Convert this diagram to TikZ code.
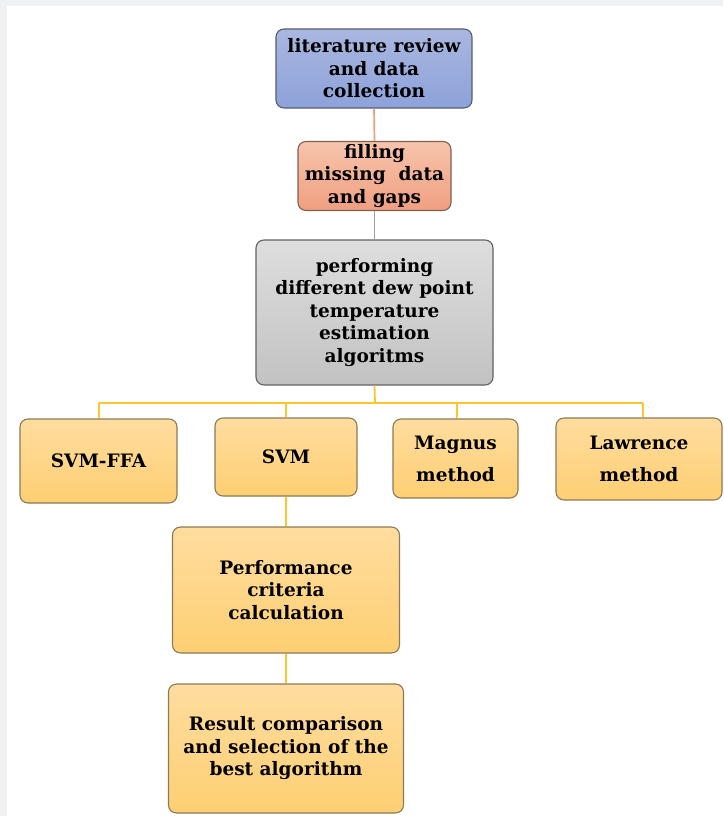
\documentclass[tikz,border=0pt]{standalone}
\usepackage{fontspec}
\setmainfont{DejaVu Serif}
\usetikzlibrary{positioning}
\definecolor{bgray}{HTML}{F0F1F3}
\definecolor{blueT}{HTML}{A9B7E0}
\definecolor{blueB}{HTML}{8DA2DA}
\definecolor{blueD}{HTML}{555D70}
\definecolor{salT}{HTML}{F7C4AC}
\definecolor{salB}{HTML}{F09F80}
\definecolor{salD}{HTML}{80604F}
\definecolor{grT}{HTML}{DEDEDE}
\definecolor{grB}{HTML}{C2C2C2}
\definecolor{grD}{HTML}{636363}
\definecolor{yeT}{HTML}{FFDD9F}
\definecolor{yeB}{HTML}{FECF73}
\definecolor{yeD}{HTML}{8C7A56}
\definecolor{lnOr}{HTML}{F0A078}
\definecolor{lnGr}{HTML}{A0A0A0}
\definecolor{lnYe}{HTML}{FFC52E}
\tikzset{
  x=1pt, y=-1pt,
  boxbase/.style={rounded corners=8pt, line width=1.1pt, align=center,
    inner sep=0pt, font=\fontsize{18.5}{22.5}\selectfont\bfseries, text=black},
  widelines/.style={font=\fontsize{18.5}{32}\selectfont\bfseries},
  bluebox/.style={boxbase, draw=blueD, top color=blueT, bottom color=blueB},
  salbox/.style={boxbase, draw=salD, top color=salT, bottom color=salB},
  graybox/.style={boxbase, draw=grD, top color=grT, bottom color=grB},
  yelbox/.style={boxbase, draw=yeD, top color=yeT, bottom color=yeB},
  conOr/.style={draw=lnOr, line width=1.7pt},
  conGr/.style={draw=lnGr, line width=1.7pt},
  conYe/.style={draw=lnYe, line width=1.8pt},
}
\begin{document}
\begin{tikzpicture}
\fill[bgray] (0,0) rectangle (723,816);
\fill[white] (7,6) rectangle (723,816);
\useasboundingbox (0,0) rectangle (723,816);

\node[bluebox, minimum width=196pt, minimum height=79pt] (b1) at (374,68.5)
  {literature review\\and data\\collection};
\node[salbox, minimum width=153pt, minimum height=69pt] (b2) at (374.5,176)
  {filling\\missing\ \ data\\and gaps};
\node[graybox, minimum width=237pt, minimum height=145pt] (b3) at (374.5,312.5)
  {performing\\different dew point\\temperature\\estimation\\algoritms};

\node[yelbox, minimum width=157pt, minimum height=84pt] (ffa) at (98.5,461) {SVM-FFA};
\node[yelbox, minimum width=142pt, minimum height=78pt] (svm) at (286,457) {SVM};
\node[yelbox, widelines, minimum width=125pt, minimum height=79pt] (mag) at (455.5,458.5) {Magnus\\method};
\node[yelbox, widelines, minimum width=166pt, minimum height=82pt] (law) at (639,459) {Lawrence\\method};
\node[yelbox, minimum width=227pt, minimum height=126pt] (perf) at (286,590)
  {Performance\\criteria\\calculation};
\node[yelbox, minimum width=235pt, minimum height=129pt] (res) at (286,748.5)
  {Result comparison\\and selection of the\\best algorithm};

\coordinate (hub) at (375,403);
\coordinate (j1) at (99,403);
\coordinate (j2) at (286,403);
\coordinate (j3) at (457,403);
\coordinate (j4) at (643,403);

\draw[conOr] (b1.south) -- (b2.north);
\draw[conGr] (b2.south) -- (b3.north);
\draw[conYe] (b3.south) -- (hub);
\draw[conYe] (j1) -- (j4);
\draw[conYe] (j1) -- (j1 |- ffa.north);
\draw[conYe] (j2) -- (j2 |- svm.north);
\draw[conYe] (j3) -- (j3 |- mag.north);
\draw[conYe] (j4) -- (j4 |- law.north);
\draw[conYe] (svm.south) -- (perf.north);
\draw[conYe] (perf.south) -- (res.north);
\end{tikzpicture}
\end{document}
